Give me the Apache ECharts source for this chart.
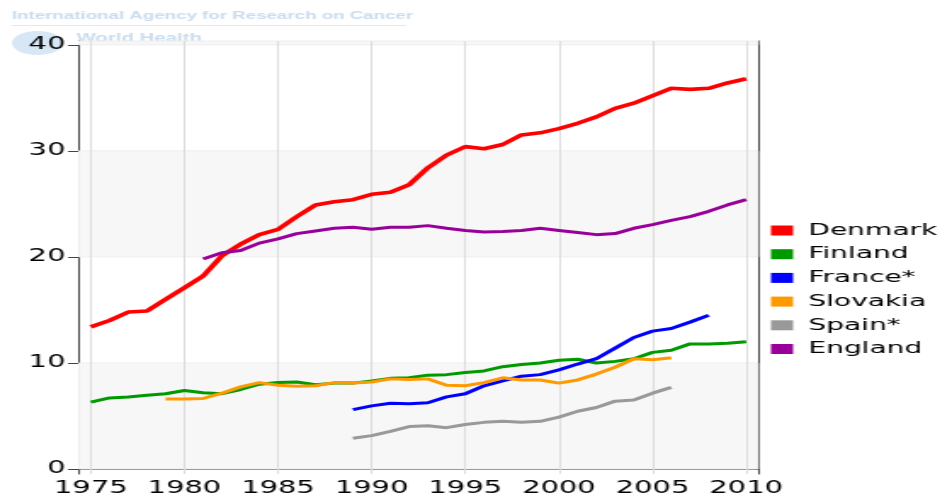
<!DOCTYPE html>
<html>
<head>
<meta charset="utf-8">
<script src="https://cdn.jsdelivr.net/npm/echarts@6/dist/echarts.min.js"></script>
<style>
  html, body { margin: 0; padding: 0; background: #fff; overflow: hidden; }
  /* the reference is a picture stretched sideways, so the chart is drawn narrow and widened */
  #chart { width: 556px; height: 500px; transform: scaleX(1.7); transform-origin: 0 0; }
</style>
</head>
<body>
<div id="chart"></div>
<script>
const countries = ['Denmark', 'Finland', 'France*', 'Slovakia', 'Spain*', 'England'];
const colors = ['#ff0000', '#009a00', '#0000ff', '#ff9900', '#999999', '#990099'];

const xTicks = [1975, 1980, 1985, 1990, 1995, 2000, 2005, 2010];
const yTicks = [0, 10, 20, 30, 40];

// first year of each series
const startYears = [1975, 1975, 1989, 1979, 1989, 1981];

const denmark = [13.4, 14.0, 14.8, 14.9, 16.0, 17.1, 18.2, 20.1, 21.2, 22.1,
  22.6, 23.8, 24.9, 25.2, 25.4, 25.9, 26.1, 26.8, 28.4, 29.6,
  30.4, 30.2, 30.6, 31.5, 31.7, 32.1, 32.6, 33.2, 34.0, 34.5,
  35.2, 35.9, 35.8, 35.9, 36.4, 36.8];
const finland = [6.3, 6.7, 6.8, 6.95, 7.1, 7.4, 7.2, 7.1, 7.5, 8.0,
  8.15, 8.2, 7.95, 8.1, 8.1, 8.3, 8.55, 8.6, 8.85, 8.9,
  9.1, 9.25, 9.65, 9.85, 10.0, 10.25, 10.35, 10.0, 10.15, 10.4,
  11.0, 11.2, 11.8, 11.8, 11.85, 12.0];
const france = [5.6, 5.95, 6.2, 6.15, 6.25, 6.8, 7.1, 7.85, 8.3, 8.75,
  8.9, 9.35, 9.9, 10.4, 11.4, 12.4, 13.0, 13.25, 13.85, 14.5];
const slovakia = [6.6, 6.6, 6.65, 7.15, 7.75, 8.15, 7.9, 7.8, 7.85, 8.15,
  8.1, 8.2, 8.5, 8.45, 8.5, 7.9, 7.85, 8.15, 8.6, 8.4,
  8.4, 8.1, 8.4, 8.95, 9.6, 10.4, 10.3, 10.5];
const spain = [2.9, 3.15, 3.55, 4.0, 4.07, 3.9, 4.2, 4.4, 4.5, 4.4,
  4.5, 4.9, 5.45, 5.8, 6.4, 6.5, 7.15, 7.7];
const england = [19.8, 20.4, 20.6, 21.3, 21.7, 22.2, 22.45, 22.7, 22.8, 22.6,
  22.8, 22.8, 22.95, 22.7, 22.5, 22.35, 22.4, 22.5, 22.7, 22.5,
  22.3, 22.1, 22.2, 22.7, 23.05, 23.45, 23.8, 24.3, 24.9, 25.4];

const values = [denmark, finland, france, slovakia, spain, england];

const myChart = echarts.init(document.getElementById('chart'));

const lineSeries = countries.map((name, i) => ({
  name: name,
  type: 'line',
  data: values[i].map((v, k) => [startYears[i] + k, v]),
  showSymbol: false,
  symbol: 'none',
  color: colors[i],
  itemStyle: { color: colors[i], borderWidth: 0 },
  lineStyle: { width: i === 0 ? 3.6 : 3, color: colors[i] },
  silent: true,
  z: 5
}));

// shaded bands 0-10, 20-30 and the strip above 40
const bands = [];
for (let k = 0; k < yTicks.length; k += 2) {
  bands.push([{ yAxis: yTicks[k] }, { yAxis: k + 1 < yTicks.length ? yTicks[k + 1] : 40.36 }]);
}

const tickFont = { fontSize: 17, color: '#000', fontFamily: 'DejaVu Sans' };

myChart.setOption({
  animation: false,
  backgroundColor: '#fff',
  graphic: [
    {
      type: 'text', left: 7, top: 10, z: -10,
      style: { text: 'International Agency for Research on Cancer', fill: '#c9ddf0',
        font: 'bold 11px "Liberation Sans", Arial, sans-serif' }
    },
    { type: 'rect', left: 7, top: 25, z: -10, shape: { width: 232, height: 1 }, style: { fill: '#dce9f6' } },
    {
      type: 'text', left: 45, top: 33, z: -10,
      style: { text: 'World Health', fill: '#c9ddf0', font: 'bold 12px "Liberation Sans", Arial, sans-serif' }
    },
    { type: 'ellipse', left: 7, top: 31, z: -10, shape: { rx: 15, ry: 12 }, style: { fill: '#d8e7f5' } }
  ],
  grid: {
    left: 46.5, right: 110.2, top: 41, bottom: 26,
    show: true, backgroundColor: '#fff', borderWidth: 0, z: -5
  },
  legend: {
    orient: 'vertical',
    left: 453.5,
    top: 222,
    padding: 0,
    data: countries,
    icon: 'rect',
    itemWidth: 13,
    itemHeight: 10,
    itemGap: 6.7,
    itemStyle: { borderWidth: 0 },
    textStyle: { fontSize: 16.5, lineHeight: 16, color: '#000', fontFamily: 'DejaVu Sans', padding: [0, 0, 0, 4] },
    selectedMode: false
  },
  xAxis: [
    {
      type: 'value',
      min: 1974.375,
      max: 2010.625,
      axisLine: { show: true, lineStyle: { color: '#444', width: 1 } },
      axisTick: { show: true, customValues: xTicks, length: 4, lineStyle: { color: '#444' } },
      axisLabel: Object.assign({ customValues: xTicks, margin: 6, formatter: v => String(v) }, tickFont),
      splitLine: { show: false }
    },
    {
      type: 'value',
      position: 'top',
      min: 1974.375,
      max: 2010.625,
      axisLine: { show: true, lineStyle: { color: '#444', width: 1 } },
      axisTick: { show: false },
      axisLabel: { show: false },
      splitLine: { show: false }
    }
  ],
  yAxis: [
    {
      type: 'value',
      min: -0.47,
      max: 40.36,
      axisLine: { show: true, lineStyle: { color: '#444', width: 1 } },
      axisTick: { show: true, customValues: yTicks, length: 6.5, lineStyle: { color: '#444' } },
      axisLabel: Object.assign({ customValues: yTicks, margin: 8 }, tickFont),
      splitLine: { show: false }
    },
    {
      type: 'value',
      position: 'right',
      min: -0.47,
      max: 40.36,
      axisLine: { show: true, lineStyle: { color: '#444', width: 1 } },
      axisTick: { show: false },
      axisLabel: { show: false },
      splitLine: { show: false }
    }
  ],
  series: [
    {
      name: 'bands',
      type: 'line',
      data: [],
      silent: true,
      z: 1,
      markArea: {
        silent: true,
        itemStyle: { color: '#f7f7f7', borderColor: '#eeeeee', borderWidth: 1 },
        data: bands
      },
      markLine: {
        silent: true,
        symbol: 'none',
        label: { show: false },
        lineStyle: { color: '#dddddd', width: 1, type: 'solid' },
        data: xTicks.map(t => ({ xAxis: t }))
      }
    }
  ].concat(lineSeries)
});
</script>
</body>
</html>
